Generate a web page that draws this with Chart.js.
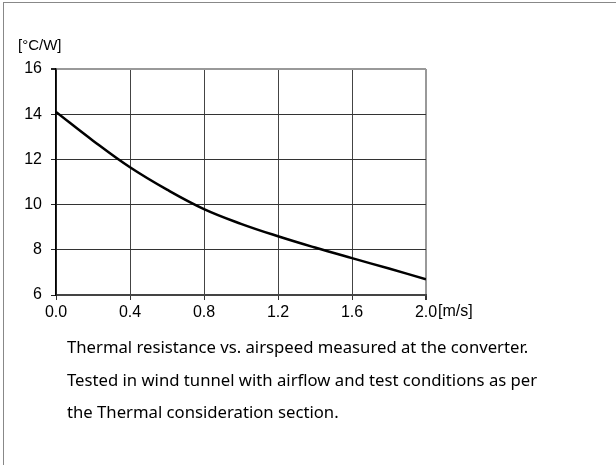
<!DOCTYPE html>
<html>
<head>
<meta charset="utf-8">
<script src="https://cdn.jsdelivr.net/npm/chart.js@4"></script>
<style>
  html, body { margin: 0; padding: 0; background: #fff; }
  #wrap { position: relative; width: 616px; height: 465px; overflow: hidden; }
  #frame { position: absolute; left: 3px; top: 2px; right: 0; bottom: 0;
           border-top: 1px solid #888; border-left: 1px solid #888; }
  #chart { position: absolute; left: 0; top: 0; }
  .lbl { position: absolute; font-family: "Liberation Sans", Arial, sans-serif; line-height: 18px; color: #000; }
  #caption { position: absolute; left: 67px; top: 331px; font-family: "Noto Sans", sans-serif;
             font-size: 16.7px; line-height: 32.5px; color: #000; white-space: nowrap; }
</style>
</head>
<body>
<div id="wrap">
  <div id="frame"></div>
  <canvas id="chart" width="616" height="465"></canvas>
  <div class="lbl" style="left:18px; top:36px; font-size:15px;">[°C/W]</div>
  <div class="lbl" style="left:438px; top:302px; font-size:16px;">[m/s]</div>
  <div id="caption">
    Thermal resistance vs. airspeed measured at the converter.<br>
    Tested in wind tunnel with airflow and test conditions as per<br>
    the Thermal consideration section.
  </div>
</div>
<script>
var airspeed = [0.0, 0.2, 0.4, 0.6, 0.8, 1.0, 1.2, 1.4, 1.6, 1.8, 2.0];
var resistance = [14.1, 12.83, 11.65, 10.66, 9.8, 9.15, 8.6, 8.1, 7.63, 7.17, 6.7];
var xTicks = [0.0, 0.4, 0.8, 1.2, 1.6, 2.0];
var yTicks = [6, 8, 10, 12, 14, 16];

var points = airspeed.map(function(x, i) { return {x: x, y: resistance[i]}; });

Chart.defaults.font.family = '"Liberation Sans", Arial, sans-serif';
Chart.defaults.font.size = 16;
Chart.defaults.color = '#000';

new Chart(document.getElementById('chart'), {
    type: 'line',
    data: {
        datasets: [{
            data: points,
            borderColor: '#000',
            borderWidth: 2.5,
            pointRadius: 0,
            fill: false,
            tension: 0.4
        }]
    },
    options: {
        responsive: false,
        animation: false,
        devicePixelRatio: 1,
        layout: { padding: { left: 0, top: 69, right: 190, bottom: 0 } },
        plugins: {
            legend: { display: false },
            tooltip: { enabled: false }
        },
        scales: {
            x: {
                type: 'linear',
                min: 0,
                max: 2,
                afterFit: function(scale) { scale.height = 170; },
                afterBuildTicks: function(scale) {
                    scale.ticks = xTicks.map(function(v) { return {value: v}; });
                },
                ticks: {
                    color: '#000',
                    padding: 3,
                    font: { size: 16 },
                    callback: function(v) { return v.toFixed(1); }
                },
                grid: {
                    color: function(ctx) { return ctx.tick && ctx.tick.value === 2 ? '#999' : '#444'; },
                    lineWidth: function(ctx) { return ctx.tick && ctx.tick.value === 2 ? 2 : 1; },
                    tickColor: '#333',
                    tickLength: 5
                },
                border: { color: '#444', width: 2 }
            },
            y: {
                min: 6,
                max: 16,
                afterFit: function(scale) { scale.width = 56; },
                afterBuildTicks: function(scale) {
                    scale.ticks = yTicks.map(function(v) { return {value: v}; });
                },
                ticks: {
                    color: '#000',
                    padding: 9,
                    font: { size: 16 }
                },
                grid: {
                    color: function(ctx) { return ctx.tick && ctx.tick.value === 16 ? '#999' : '#333'; },
                    lineWidth: function(ctx) { return ctx.tick && ctx.tick.value === 16 ? 2 : 1; },
                    tickColor: '#222',
                    tickLength: 5
                },
                border: { color: '#000', width: 1.5 }
            }
        }
    }
});
</script>
</body>
</html>
